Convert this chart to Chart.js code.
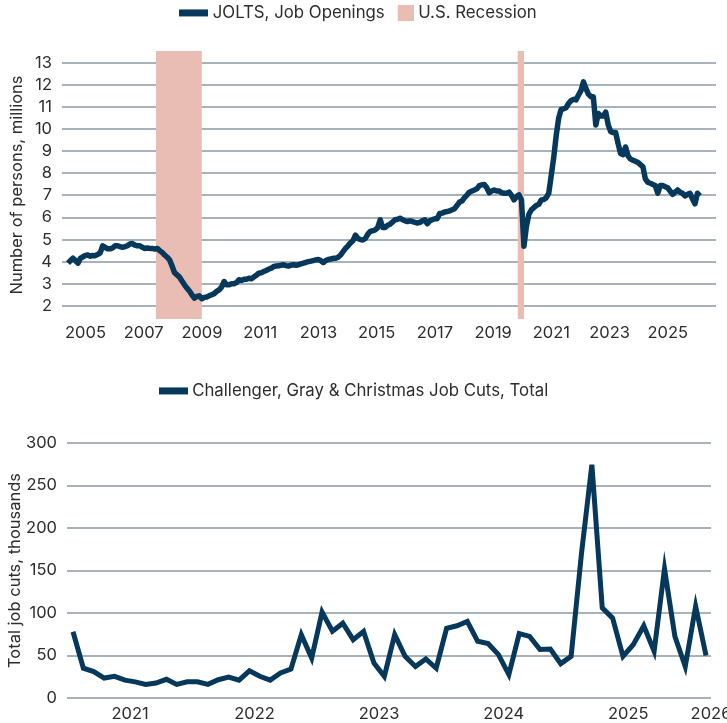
<!DOCTYPE html>
<html>
<head>
<meta charset="utf-8">
<script src="https://cdn.jsdelivr.net/npm/chart.js@4.4.1/dist/chart.umd.min.js"></script>
<style>
  html, body { margin: 0; padding: 0; background: #fff; }
  body { width: 727px; height: 723px; position: relative; overflow: hidden; }
  #jolts { position: absolute; left: 0; top: 0; }
  #cuts { position: absolute; left: 0; top: 370px; }
</style>
</head>
<body>
<canvas id="jolts" width="727" height="349"></canvas>
<canvas id="cuts" width="727" height="353"></canvas>
<script>
// JOLTS job openings, millions, monthly from Dec 2004
const joltsStart = '2004-12';
const joltsValues = [
  3.93, 4.05, 4.16, 4.05, 3.93, 4.15, 4.22, 4.28, 4.3, 4.25, 4.28, 4.27,
  4.33, 4.4, 4.72, 4.65, 4.58, 4.58, 4.62, 4.72, 4.72, 4.68, 4.65, 4.68,
  4.72, 4.8, 4.82, 4.75, 4.72, 4.72, 4.65, 4.6, 4.62, 4.6, 4.6, 4.57,
  4.6, 4.5, 4.42, 4.3, 4.2, 4.08, 3.8, 3.5, 3.4, 3.3, 3.12, 2.95,
  2.8, 2.67, 2.5, 2.35, 2.42, 2.45, 2.32, 2.38, 2.4, 2.45, 2.5, 2.55,
  2.65, 2.72, 2.85, 3.1, 2.95, 2.95, 3.0, 3.0, 3.05, 3.18, 3.15, 3.2,
  3.2, 3.25, 3.22, 3.3, 3.38, 3.48, 3.5, 3.55, 3.6, 3.66, 3.7, 3.78,
  3.8, 3.81, 3.84, 3.86, 3.82, 3.8, 3.84, 3.86, 3.84, 3.86, 3.9, 3.93,
  3.97, 4.0, 4.02, 4.05, 4.08, 4.1, 4.05, 3.96, 4.05, 4.1, 4.12, 4.15,
  4.15, 4.2, 4.3, 4.45, 4.6, 4.72, 4.85, 4.95, 5.2, 5.05, 5.0, 4.98,
  5.05, 5.25, 5.37, 5.4, 5.44, 5.55, 5.9, 5.55, 5.55, 5.65, 5.7, 5.8,
  5.9, 5.92, 5.97, 5.9, 5.85, 5.82, 5.85, 5.82, 5.78, 5.75, 5.78, 5.85,
  5.9, 5.72, 5.85, 5.9, 5.95, 5.95, 6.18, 6.2, 6.25, 6.27, 6.3, 6.35,
  6.4, 6.55, 6.7, 6.75, 6.9, 7.02, 7.15, 7.2, 7.25, 7.3, 7.45, 7.48,
  7.5, 7.35, 7.12, 7.2, 7.25, 7.2, 7.2, 7.12, 7.1, 7.1, 7.15, 7.0,
  6.8, 6.95, 7.03, 6.8, 4.7, 5.6, 6.15, 6.35, 6.45, 6.55, 6.6, 6.8,
  6.82, 6.9, 7.1, 7.9, 8.7, 9.7, 10.5, 10.9, 10.93, 10.98, 11.17, 11.3,
  11.36, 11.33, 11.55, 11.75, 12.15, 11.85, 11.6, 11.48, 11.48, 10.2, 10.72, 10.6,
  10.6, 10.78, 10.2, 9.9, 9.85, 9.85, 9.35, 8.9, 8.85, 9.2, 8.8, 8.65,
  8.6, 8.55, 8.5, 8.4, 8.3, 7.75, 7.6, 7.55, 7.5, 7.45, 7.1, 7.45,
  7.45, 7.4, 7.35, 7.2, 7.05, 7.15, 7.25, 7.15, 7.1, 6.98, 7.05, 7.1,
  6.85, 6.62, 7.1, 6.98
];
const recessions = [['2007-12', '2009-06'], ['2020-02', '2020-04']];
const joltsYears = [2005, 2007, 2009, 2011, 2013, 2015, 2017, 2019, 2021, 2023, 2025];
const joltsTicks = [2, 3, 4, 5, 6, 7, 8, 9, 10, 11, 12, 13];

// Challenger job cuts, thousands, monthly from Jan 2021
const cutsStart = '2021-01';
const cutsValues = [
  78, 35, 31, 23.5, 25.5, 21, 19, 16, 17.6, 22, 16, 19,
  19, 16, 21.5, 24.7, 21, 32, 25.5, 21, 29.4, 34, 74.5, 47,
  101, 78.5, 88, 68.6, 78.4, 41, 25.5, 74.5, 49, 37, 46, 35,
  82, 85, 90, 66.7, 64, 51, 27.5, 75.7, 72.5, 57, 57.6, 40.4,
  49, 170, 274.5, 106, 94, 49, 63, 85, 55, 152, 72.5, 37,
  108, 50
];
const cutsYears = [2021, 2022, 2023, 2024, 2025, 2026];
const cutsTicks = [0, 50, 100, 150, 200, 250, 300];

const navy = '#05385a';
const pink = '#e9bcb4';
const gridCol = '#a7b2bc';
const textCol = '#2d2d2d';

Chart.defaults.font.family = 'Inter, Roboto, "Liberation Sans", sans-serif';
Chart.defaults.font.weight = 400;
Chart.defaults.color = textCol;

function monthIndex(ym, start) {
  const [y, m] = ym.split('-').map(Number);
  const [y0, m0] = start.split('-').map(Number);
  return (y - y0) * 12 + (m - m0);
}

// year labels on the top axis sit a little tighter than 12 months apart
const joltsLabelAt = y => 7.06 + (y - 2005) * 11.75;

// legend keys: a flat bar for the series, a square for the shading
function keyImage(color, x, y, w, h) {
  const c = document.createElement('canvas');
  c.width = 29;
  c.height = 16;
  const g = c.getContext('2d');
  g.fillStyle = color;
  g.fillRect(x, y, w, h);
  return c;
}
const lineKey = keyImage(navy, 0, 4, 29, 7);
const boxKey = keyImage(pink, 13, 0, 16, 16);

function legendHeight(h) {
  return {
    id: 'legendHeight',
    afterInit(chart) {
      const legend = chart.legend;
      const fit = legend.fit;
      legend.fit = function () {
        fit.call(this);
        this.height = h;
      };
    }
  };
}

const recessionShade = {
  id: 'recessionShade',
  beforeDatasetsDraw(chart) {
    const { ctx, chartArea, scales: { x } } = chart;
    ctx.save();
    ctx.fillStyle = pink;
    recessions.forEach(([a, b]) => {
      const x0 = x.getPixelForValue(monthIndex(a, joltsStart) - 0.5);
      const x1 = x.getPixelForValue(monthIndex(b, joltsStart));
      ctx.fillRect(x0, chartArea.top, x1 - x0, chartArea.bottom - chartArea.top);
    });
    ctx.restore();
  }
};

const legendLabels = {
  usePointStyle: true,
  pointStyleWidth: 21,
  boxHeight: 16,
  padding: 4,
  color: textCol,
  font: { size: 16.8 }
};

// top chart
const joltsMin = -2.42, joltsMax = 261.5;
new Chart(document.getElementById('jolts'), {
  type: 'line',
  data: {
    datasets: [{
      label: 'JOLTS, Job Openings',
      data: joltsValues.map((v, i) => ({ x: i, y: v })),
      borderColor: navy,
      backgroundColor: navy,
      borderWidth: 5.5,
      borderJoinStyle: 'round',
      pointRadius: 0,
      pointStyle: lineKey,
      tension: 0
    }, {
      label: 'U.S. Recession',
      data: [],
      borderColor: pink,
      backgroundColor: pink,
      pointStyle: boxKey
    }]
  },
  options: {
    responsive: false,
    animation: false,
    events: [],
    layout: { padding: { top: 1, right: 11, left: 4, bottom: 0 } },
    plugins: {
      legend: { labels: legendLabels },
      tooltip: { enabled: false }
    },
    scales: {
      x: {
        type: 'linear',
        min: joltsMin,
        max: joltsMax,
        grid: { display: false, drawTicks: false },
        border: { display: false },
        afterBuildTicks: s => {
          s.ticks = joltsYears.map(y => ({ value: joltsLabelAt(y), year: y }));
        },
        afterFit: s => { s.height = 30; s.paddingLeft = 0; s.paddingRight = 0; },
        ticks: {
          autoSkip: false, maxRotation: 0, padding: 4,
          font: { size: 16.5 },
          callback: (v, i, t) => t[i].year
        }
      },
      y: {
        min: 1.4,
        max: 13.55,
        afterBuildTicks: s => { s.ticks = joltsTicks.map(v => ({ value: v })); },
        afterFit: s => { s.width = 58; s.paddingTop = 0; s.paddingBottom = 0; },
        grid: { color: gridCol, lineWidth: 2, drawTicks: false },
        border: { display: false },
        ticks: { padding: 10, font: { size: 16.5 } },
        title: {
          display: true,
          text: 'Number of persons, millions',
          font: { size: 16.5 },
          padding: { top: 3, bottom: 0 }
        }
      }
    }
  },
  plugins: [legendHeight(50), recessionShade]
});

// bottom chart
const cutsMin = -0.578, cutsMax = 61.48;
new Chart(document.getElementById('cuts'), {
  type: 'line',
  data: {
    datasets: [{
      label: 'Challenger, Gray & Christmas Job Cuts, Total',
      data: cutsValues.map((v, i) => ({ x: i, y: v })),
      borderColor: navy,
      backgroundColor: navy,
      borderWidth: 5,
      pointRadius: 0,
      pointStyle: lineKey,
      tension: 0
    }]
  },
  options: {
    responsive: false,
    animation: false,
    events: [],
    layout: { padding: { top: 9, right: 16, left: 0, bottom: 0 } },
    plugins: {
      legend: { labels: legendLabels },
      tooltip: { enabled: false }
    },
    scales: {
      x: {
        type: 'linear',
        min: cutsMin,
        max: cutsMax,
        grid: { display: false, drawTicks: false },
        border: { display: false },
        afterBuildTicks: s => {
          s.ticks = cutsYears.map(y => ({
            value: Math.min(monthIndex(y + '-07', cutsStart) - 0.5, cutsMax),
            year: y
          }));
        },
        afterFit: s => { s.height = 25; s.paddingLeft = 0; s.paddingRight = 0; },
        ticks: {
          autoSkip: false, maxRotation: 0, padding: 6,
          font: { size: 16.5 },
          callback: (v, i, t) => t[i].year
        }
      },
      y: {
        min: 0,
        max: 300,
        afterBuildTicks: s => { s.ticks = cutsTicks.map(v => ({ value: v })); },
        afterFit: s => { s.width = 67; s.paddingTop = 0; s.paddingBottom = 0; },
        grid: { color: gridCol, lineWidth: 2, drawTicks: false },
        border: { display: false },
        ticks: { padding: 10, font: { size: 16.5 } },
        title: {
          display: true,
          text: 'Total job cuts, thousands',
          font: { size: 16.5 },
          padding: { top: 5, bottom: 0 }
        }
      }
    }
  },
  plugins: [legendHeight(64)]
});
</script>
</body>
</html>
